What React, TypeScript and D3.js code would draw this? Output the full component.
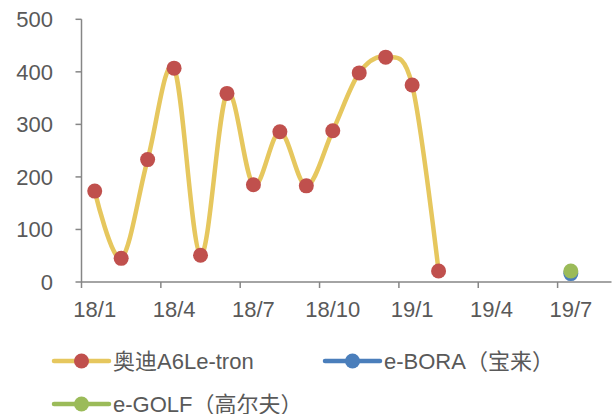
import React from 'react';
import * as d3 from 'd3';

const months = ['18/1','18/2','18/3','18/4','18/5','18/6','18/7','18/8','18/9','18/10','18/11','18/12','19/1','19/2','19/3','19/4','19/5','19/6','19/7','19/8'];
const tickLabels = ['18/1','18/4','18/7','18/10','19/1','19/4','19/7'];
const audiValues: (number | null)[] = [173,45,233,407,51,359,185,286,183,288,398,428,375,21,null,null,null,null,null,null];
const boraValues: (number | null)[] = [null,null,null,null,null,null,null,null,null,null,null,null,null,null,null,null,null,null,16,null];
const golfValues: (number | null)[] = [null,null,null,null,null,null,null,null,null,null,null,null,null,null,null,null,null,null,21,null];
const yTicks = [0,100,200,300,400,500];

const series = [
  { name: '奥迪A6Le-tron', values: audiValues, line: '#E6C75E', marker: '#C0504D' },
  { name: 'e-BORA（宝来）', values: boraValues, line: '#4A7EBB', marker: '#4A7EBB' },
  { name: 'e-GOLF（高尔夫）', values: golfValues, line: '#9BBB59', marker: '#9BBB59' },
];

const FONT = "'Liberation Sans', Arial, 'Noto Sans CJK SC', sans-serif";
const TEXT = '#595959';
const AXIS = '#868686';

export default function App() {
  const left = 81.5, right = 610.5, top = 19.3, bottom = 282;
  const x = d3.scaleBand<string>().domain(months).range([left, right]).paddingInner(0).paddingOuter(0);
  const y = d3.scaleLinear().domain([0, 500]).range([bottom, top]);
  const cx = (m: string) => (x(m) as number) + x.bandwidth() / 2;

  const line = d3.line<[string, number | null]>()
    .defined(d => d[1] != null)
    .x(d => cx(d[0]))
    .y(d => y(d[1] as number))
    .curve(d3.curveCatmullRom.alpha(0));

  const legend = [
    { s: series[0], lx: 54, ly: 361 },
    { s: series[1], lx: 325, ly: 361 },
    { s: series[2], lx: 54, ly: 404 },
  ];

  return (
    <svg width={612} height={414} style={{ position: 'absolute', left: 0, top: 0, background: '#fff' }} fontFamily={FONT}>
      {/* y axis */}
      <line x1={left} x2={left} y1={top} y2={bottom} stroke={AXIS} strokeWidth={1.5} />
      {yTicks.map(t => (
        <g key={t}>
          <line x1={left - 6} x2={left} y1={y(t)} y2={y(t)} stroke={AXIS} strokeWidth={1.5} />
          <text x={53} y={y(t)} dy="0.36em" textAnchor="end" fontSize={22} fill={TEXT}>{t}</text>
        </g>
      ))}
      {/* x axis */}
      <line x1={left} x2={611.5} y1={bottom} y2={bottom} stroke={AXIS} strokeWidth={1.5} />
      {tickLabels.map(m => (
        <g key={m}>
          <line x1={x(m) as number} x2={x(m) as number} y1={bottom} y2={bottom + 6} stroke={AXIS} strokeWidth={1.5} />
          <text x={cx(m)} y={317} textAnchor="middle" fontSize={22} fill={TEXT}>{m}</text>
        </g>
      ))}
      {/* series */}
      {series.map(s => (
        <g key={s.name}>
          <path d={line(months.map((m, i) => [m, s.values[i]] as [string, number | null])) || ''} fill="none" stroke={s.line} strokeWidth={4.5} strokeLinecap="round" />
          {months.map((m, i) => s.values[i] == null ? null : (
            <circle key={m} cx={cx(m)} cy={y(s.values[i] as number)} r={7.5} fill={s.marker} />
          ))}
        </g>
      ))}
      {/* legend */}
      {legend.map(({ s, lx, ly }) => (
        <g key={s.name}>
          <line x1={lx} x2={lx + 55} y1={ly} y2={ly} stroke={s.line} strokeWidth={4.5} strokeLinecap="round" />
          <circle cx={lx + 27.5} cy={ly} r={7.5} fill={s.marker} />
          <text x={lx + 59} y={ly} dy="0.36em" fontSize={22} fill={TEXT}>{s.name}</text>
        </g>
      ))}
    </svg>
  );
}
